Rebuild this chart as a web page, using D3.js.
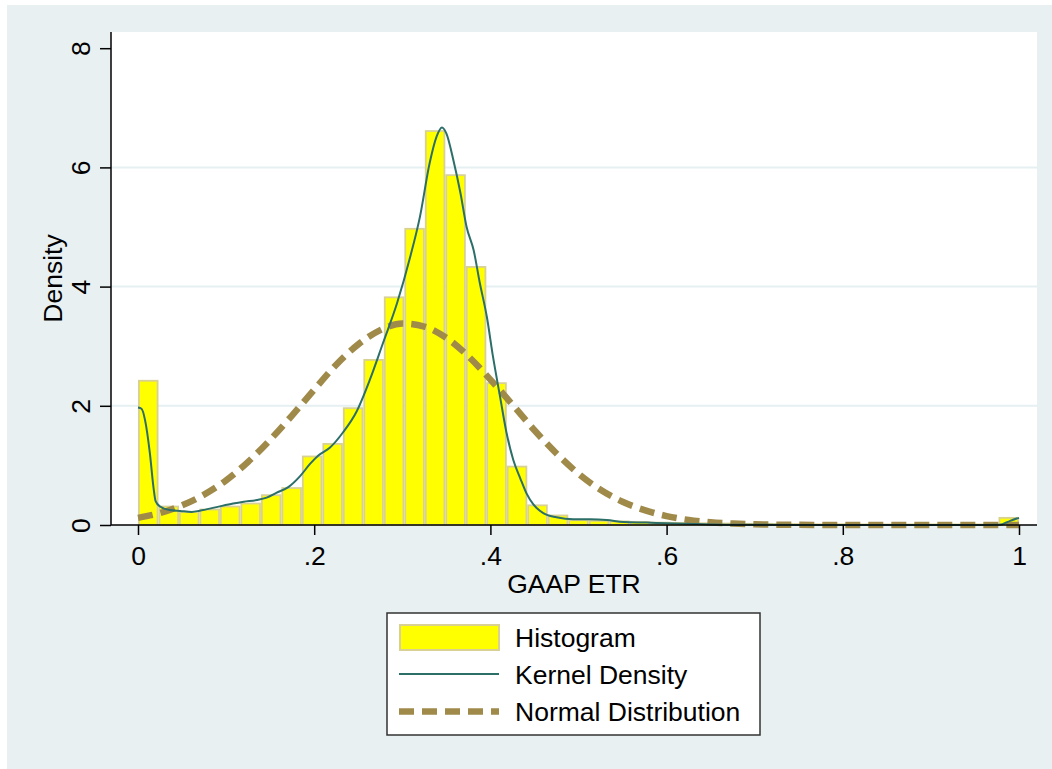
<!DOCTYPE html>
<html>
<head>
<meta charset="utf-8">
<script src="https://cdn.jsdelivr.net/npm/d3@7"></script>
<style>
  body { margin: 0; background: #fff; }
  text { font-family: "Liberation Sans", Arial, Helvetica, sans-serif; fill: #000; }
</style>
</head>
<body>
<div id="chart"></div>
<script>
/* Histogram: 43 equal bins on [0,1], density per bin */
var binCount = 43;
var binDensity = [2.42, 0.31, 0.22, 0.26, 0.31, 0.36, 0.50, 0.62, 1.15, 1.36,
                  1.96, 2.77, 3.82, 4.97, 6.61, 5.87, 4.33, 2.38, 0.98, 0.33,
                  0.16, 0.08, 0.07, 0.06, 0.05, 0.04, 0.035, 0.03, 0.025, 0.02,
                  0.02, 0.015, 0.015, 0.012, 0.012, 0.01, 0.01, 0.01, 0.01, 0.01,
                  0.01, 0.01, 0.12];

/* Kernel density */
var kdX = [0, 0.004, 0.008, 0.0135, 0.0175, 0.02, 0.025, 0.036, 0.048, 0.061,
           0.07, 0.089, 0.108, 0.12, 0.135, 0.146, 0.157, 0.171, 0.184, 0.195,
           0.205, 0.218, 0.233, 0.248, 0.263, 0.278, 0.294, 0.309, 0.32, 0.331,
           0.339, 0.345, 0.35, 0.358, 0.366, 0.373, 0.381, 0.388, 0.396, 0.403,
           0.411, 0.418, 0.426, 0.434, 0.441, 0.449, 0.46, 0.475, 0.494, 0.513,
           0.532, 0.551, 0.577, 0.6, 0.634, 0.672, 0.75, 0.85, 0.95, 0.978,
           0.99, 1];
var kdY = [1.97, 1.95, 1.76, 1.2, 0.64, 0.4, 0.31, 0.25, 0.235, 0.22,
           0.24, 0.3, 0.36, 0.39, 0.42, 0.46, 0.54, 0.64, 0.82, 1.02,
           1.17, 1.3, 1.56, 1.9, 2.43, 3.05, 3.72, 4.5, 5.17, 6.07,
           6.52, 6.67, 6.57, 6.12, 5.57, 5.0, 4.61, 4.06, 3.49, 2.82,
           2.15, 1.57, 1.09, 0.78, 0.53, 0.34, 0.2, 0.13, 0.095, 0.095,
           0.084, 0.05, 0.04, 0.03, 0.017, 0.006, 0.002, 0.001, 0.001, 0.003,
           0.07, 0.12];

/* Normal distribution overlay */
var normX = [0, 0.025, 0.05, 0.075, 0.1, 0.125, 0.15, 0.175, 0.2, 0.225,
             0.25, 0.275, 0.3, 0.325, 0.35, 0.375, 0.4, 0.425, 0.45, 0.475,
             0.5, 0.525, 0.55, 0.575, 0.6, 0.625, 0.65, 0.675, 0.7, 0.75,
             0.8, 0.9, 1];
var normY = [0.12, 0.2, 0.33, 0.51, 0.75, 1.06, 1.43, 1.84, 2.27, 2.69,
             3.03, 3.27, 3.38, 3.33, 3.14, 2.83, 2.44, 2.02, 1.59, 1.2,
             0.86, 0.59, 0.39, 0.25, 0.15, 0.085, 0.047, 0.025, 0.012, 0.003,
             0, 0, 0];

var xTicks = [0, 0.2, 0.4, 0.6, 0.8, 1];
var yTicks = [0, 2, 4, 6, 8];
var yGrid = [2, 4, 6];
var legendLabels = ["Histogram", "Kernel Density", "Normal Distribution"];

var W = 1052, H = 769,
    fontSize = 26.5,
    barFill = "#ffff00", barStroke = "#d8d193",
    kdColor = "#2c6e68", normColor = "#a08a4a",
    bgColor = "#e8f0f2", gridColor = "#e6eff1";

var plot = { left: 111, right: 1037, top: 32, bottom: 525 };

var x = d3.scaleLinear().domain([0, 1]).range([138, 1019]);
var y = d3.scaleLinear().domain([0, 8]).range([525, 48.2]);

var svg = d3.select("#chart").append("svg")
    .attr("width", W)
    .attr("height", H);

/* Background and plot region */
svg.append("rect")
    .attr("x", 7).attr("y", 5)
    .attr("width", W - 7).attr("height", H - 5)
    .attr("fill", bgColor);

svg.append("rect")
    .attr("x", plot.left).attr("y", plot.top)
    .attr("width", plot.right - plot.left).attr("height", plot.bottom - plot.top)
    .attr("fill", "#fff");

svg.selectAll(".grid")
    .data(yGrid)
    .enter().append("line")
    .attr("class", "grid")
    .attr("x1", plot.left).attr("x2", plot.right)
    .attr("y1", function(d) { return y(d); })
    .attr("y2", function(d) { return y(d); })
    .attr("stroke", gridColor)
    .attr("stroke-width", 2);

/* Histogram bars */
var binW = 1 / binCount;
svg.append("g").selectAll("rect")
    .data(binDensity)
    .enter().append("rect")
    .attr("x", function(d, i) { return x(i * binW) + 0.9; })
    .attr("width", function(d, i) { return x((i + 1) * binW) - x(i * binW) - 1.8; })
    .attr("y", function(d) { return y(d); })
    .attr("height", function(d) { return y(0) - y(d); })
    .attr("fill", barFill)
    .attr("stroke", barStroke)
    .attr("stroke-width", 1.8);

/* Normal curve (dashed) */
var normLine = d3.line()
    .x(function(d, i) { return x(normX[i]); })
    .y(function(d) { return y(d); })
    .curve(d3.curveMonotoneX);

svg.append("path")
    .datum(normY)
    .attr("d", normLine)
    .attr("fill", "none")
    .attr("stroke", normColor)
    .attr("stroke-width", 6.5)
    .attr("stroke-dasharray", "15,8");

/* Kernel density */
var kdLine = d3.line()
    .x(function(d, i) { return x(kdX[i]); })
    .y(function(d) { return y(d); })
    .curve(d3.curveMonotoneX);

svg.append("path")
    .datum(kdY)
    .attr("d", kdLine)
    .attr("fill", "none")
    .attr("stroke", kdColor)
    .attr("stroke-width", 2);

/* Axes */
var xAxis = d3.axisBottom(x)
    .tickValues(xTicks)
    .tickSize(10)
    .tickSizeOuter(0)
    .tickFormat(function(d) { return d === 0 ? "0" : d === 1 ? "1" : d3.format(".1f")(d).replace(/^0/, ""); });

var gx = svg.append("g")
    .attr("transform", "translate(0," + plot.bottom + ")")
    .call(xAxis);
gx.select(".domain").remove();
gx.selectAll(".tick line").attr("stroke", "#000").attr("stroke-width", 1.5);
gx.selectAll(".tick text")
    .attr("y", 40).attr("dy", 0)
    .attr("font-size", fontSize)
    .attr("font-family", null);

var yAxis = d3.axisLeft(y)
    .tickValues(yTicks)
    .tickSize(11)
    .tickSizeOuter(0)
    .tickFormat(d3.format("d"));

var gy = svg.append("g")
    .attr("transform", "translate(" + plot.left + ",0)")
    .call(yAxis);
gy.select(".domain").remove();
gy.selectAll(".tick line").attr("stroke", "#000").attr("stroke-width", 1.5);
gy.selectAll(".tick text")
    .attr("x", null).attr("dy", null)
    .attr("transform", "translate(-21,0) rotate(-90)")
    .attr("text-anchor", "middle")
    .attr("font-size", fontSize)
    .attr("font-family", null);

svg.append("line")
    .attr("x1", plot.left).attr("x2", plot.right)
    .attr("y1", plot.bottom).attr("y2", plot.bottom)
    .attr("stroke", "#000").attr("stroke-width", 1.5);

svg.append("line")
    .attr("x1", plot.left).attr("x2", plot.left)
    .attr("y1", plot.top).attr("y2", plot.bottom)
    .attr("stroke", "#000").attr("stroke-width", 1.5);

/* Axis titles */
svg.append("text")
    .attr("x", (plot.left + plot.right) / 2)
    .attr("y", 593)
    .attr("text-anchor", "middle")
    .attr("font-size", fontSize)
    .text("GAAP ETR");

svg.append("text")
    .attr("transform", "translate(62," + (plot.top + plot.bottom) / 2 + ") rotate(-90)")
    .attr("text-anchor", "middle")
    .attr("font-size", fontSize)
    .text("Density");

/* Legend */
var legend = svg.append("g");
legend.append("rect")
    .attr("x", 387).attr("y", 613)
    .attr("width", 373).attr("height", 122)
    .attr("fill", "#fff")
    .attr("stroke", "#333")
    .attr("stroke-width", 1.5);

var rowY = [637.5, 674, 711.5];

legend.append("rect")
    .attr("x", 400).attr("y", rowY[0] - 12.5)
    .attr("width", 99).attr("height", 25)
    .attr("fill", barFill)
    .attr("stroke", barStroke)
    .attr("stroke-width", 2);

legend.append("line")
    .attr("x1", 399).attr("x2", 499)
    .attr("y1", rowY[1]).attr("y2", rowY[1])
    .attr("stroke", kdColor).attr("stroke-width", 2);

legend.append("line")
    .attr("x1", 399).attr("x2", 499)
    .attr("y1", rowY[2]).attr("y2", rowY[2])
    .attr("stroke", normColor).attr("stroke-width", 6.5)
    .attr("stroke-dasharray", "15,8");

legend.selectAll(".lab")
    .data(legendLabels)
    .enter().append("text")
    .attr("class", "lab")
    .attr("x", 515)
    .attr("y", function(d, i) { return rowY[i] + 9.5; })
    .attr("font-size", fontSize)
    .text(function(d) { return d; });
</script>
</body>
</html>
